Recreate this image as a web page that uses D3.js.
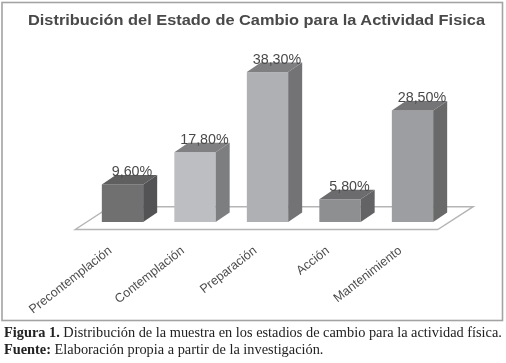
<!DOCTYPE html>
<html>
<head>
<meta charset="utf-8">
<script src="https://cdn.jsdelivr.net/npm/d3@7"></script>
<style>
  html, body { margin: 0; padding: 0; background: #fff; }
  svg { display: block; }
</style>
</head>
<body>
<div id="chart"></div>
<script>
const categories = ["Precontemplación", "Contemplación", "Preparación", "Acción", "Mantenimiento"];
const values = [9.6, 17.8, 38.3, 5.8, 28.5];
const valueLabels = ["9,60%", "17,80%", "38,30%", "5,80%", "28,50%"];

const frontColors = ["#6f6f71", "#bdbec1", "#afb0b3", "#8e8f91", "#9d9ea1"];
const sideColors = ["#535355", "#7d7e80", "#737375", "#636365", "#69696b"];
const topColors = ["#5e5e60", "#808082", "#7f7f81", "#6c6c6e", "#757577"];

const width = 506;
const height = 363;
const baseY = 222;
const depthX = 14;
const depthY = 9.5;

const svg = d3
  .select("#chart")
  .append("svg")
  .attr("width", width)
  .attr("height", height)
  .attr("viewBox", [0, 0, width, height]);

// scan of a printed figure, so everything is a little soft
const soft = svg.append("filter").attr("id", "soft");
soft.append("feGaussianBlur").attr("stdDeviation", 0.4);

const root = svg.append("g").attr("filter", "url(#soft)");

const x = d3
  .scaleBand()
  .domain(categories)
  .range([86.25, 448.75])
  .paddingInner(0.43)
  .paddingOuter(0.215);

const y = d3.scaleLinear().domain([0, 40]).range([baseY, baseY - 156.6]);

// outer frame
root
  .append("rect")
  .attr("x", 2)
  .attr("y", 2.5)
  .attr("width", 500.5)
  .attr("height", 318)
  .attr("fill", "#fff")
  .attr("stroke", "#a3a3a3")
  .attr("stroke-width", 1.6);

// the title is stretched sideways in the original
root
  .append("text")
  .attr("x", 28)
  .attr("y", 25)
  .attr("font-family", "Liberation Sans")
  .attr("font-size", 14.8)
  .attr("font-weight", "bold")
  .attr("textLength", 457)
  .attr("lengthAdjust", "spacingAndGlyphs")
  .attr("fill", "#484848")
  .text("Distribución del Estado de Cambio para la Actividad Fisica");

// floor of the 3d plot
const floor = d3.line()([
  [x.range()[0] - 11, 229.5],
  [x.range()[1] - 11, 229.5],
  [x.range()[1] + 24.5, 206.7],
  [x.range()[0] + 24, 206.7],
]);
root
  .append("path")
  .attr("d", floor + "Z")
  .attr("fill", "#fff")
  .attr("stroke", "#b5b5b5")
  .attr("stroke-width", 1.4);

const bars = root
  .append("g")
  .selectAll("g")
  .data(categories)
  .enter()
  .append("g");

bars
  .append("rect")
  .attr("x", (d) => x(d))
  .attr("y", (d, i) => y(values[i]))
  .attr("width", x.bandwidth())
  .attr("height", (d, i) => baseY - y(values[i]))
  .attr("fill", (d, i) => frontColors[i]);

bars
  .append("path")
  .attr("fill", (d, i) => sideColors[i])
  .attr("d", (d, i) => {
    const r = x(d) + x.bandwidth();
    const t = y(values[i]);
    return d3.line()([
      [r, t],
      [r + depthX, t - depthY],
      [r + depthX, baseY - depthY],
      [r, baseY],
    ]) + "Z";
  });

bars
  .append("path")
  .attr("fill", (d, i) => topColors[i])
  .attr("d", (d, i) => {
    const l = x(d);
    const r = l + x.bandwidth();
    const t = y(values[i]);
    return d3.line()([
      [l, t],
      [l + depthX, t - depthY],
      [r + depthX, t - depthY],
      [r, t],
    ]) + "Z";
  });

bars
  .append("text")
  .attr("x", (d) => x(d) + x.bandwidth() / 2 + 9.5)
  .attr("y", (d, i) => y(values[i]) - depthY + 1.5)
  .attr("text-anchor", "middle")
  .attr("font-family", "Liberation Sans")
  .attr("font-size", 14.3)
  .attr("fill", "#4a4a4a")
  .text((d, i) => valueLabels[i]);

// slanted category labels
bars
  .append("text")
  .attr("transform", (d) => `translate(${x(d) + x.bandwidth() / 2 - 10},252) rotate(-38)`)
  .attr("text-anchor", "end")
  .attr("font-family", "Liberation Sans")
  .attr("font-size", 12.6)
  .attr("fill", "#4d4d4d")
  .text((d) => d);

// caption below the frame
const caption = root
  .append("g")
  .attr("font-family", "Liberation Serif")
  .attr("font-size", 14.35)
  .attr("fill", "#222");

const line1 = caption.append("text").attr("x", 4).attr("y", 337);
line1.append("tspan").attr("font-weight", "bold").text("Figura 1.");
line1.append("tspan").text(" Distribución de la muestra en los estadios de cambio para la actividad física.");

const line2 = caption.append("text").attr("x", 4).attr("y", 354);
line2.append("tspan").attr("font-weight", "bold").text("Fuente:");
line2.append("tspan").text(" Elaboración propia a partir de la investigación.");
</script>
</body>
</html>
